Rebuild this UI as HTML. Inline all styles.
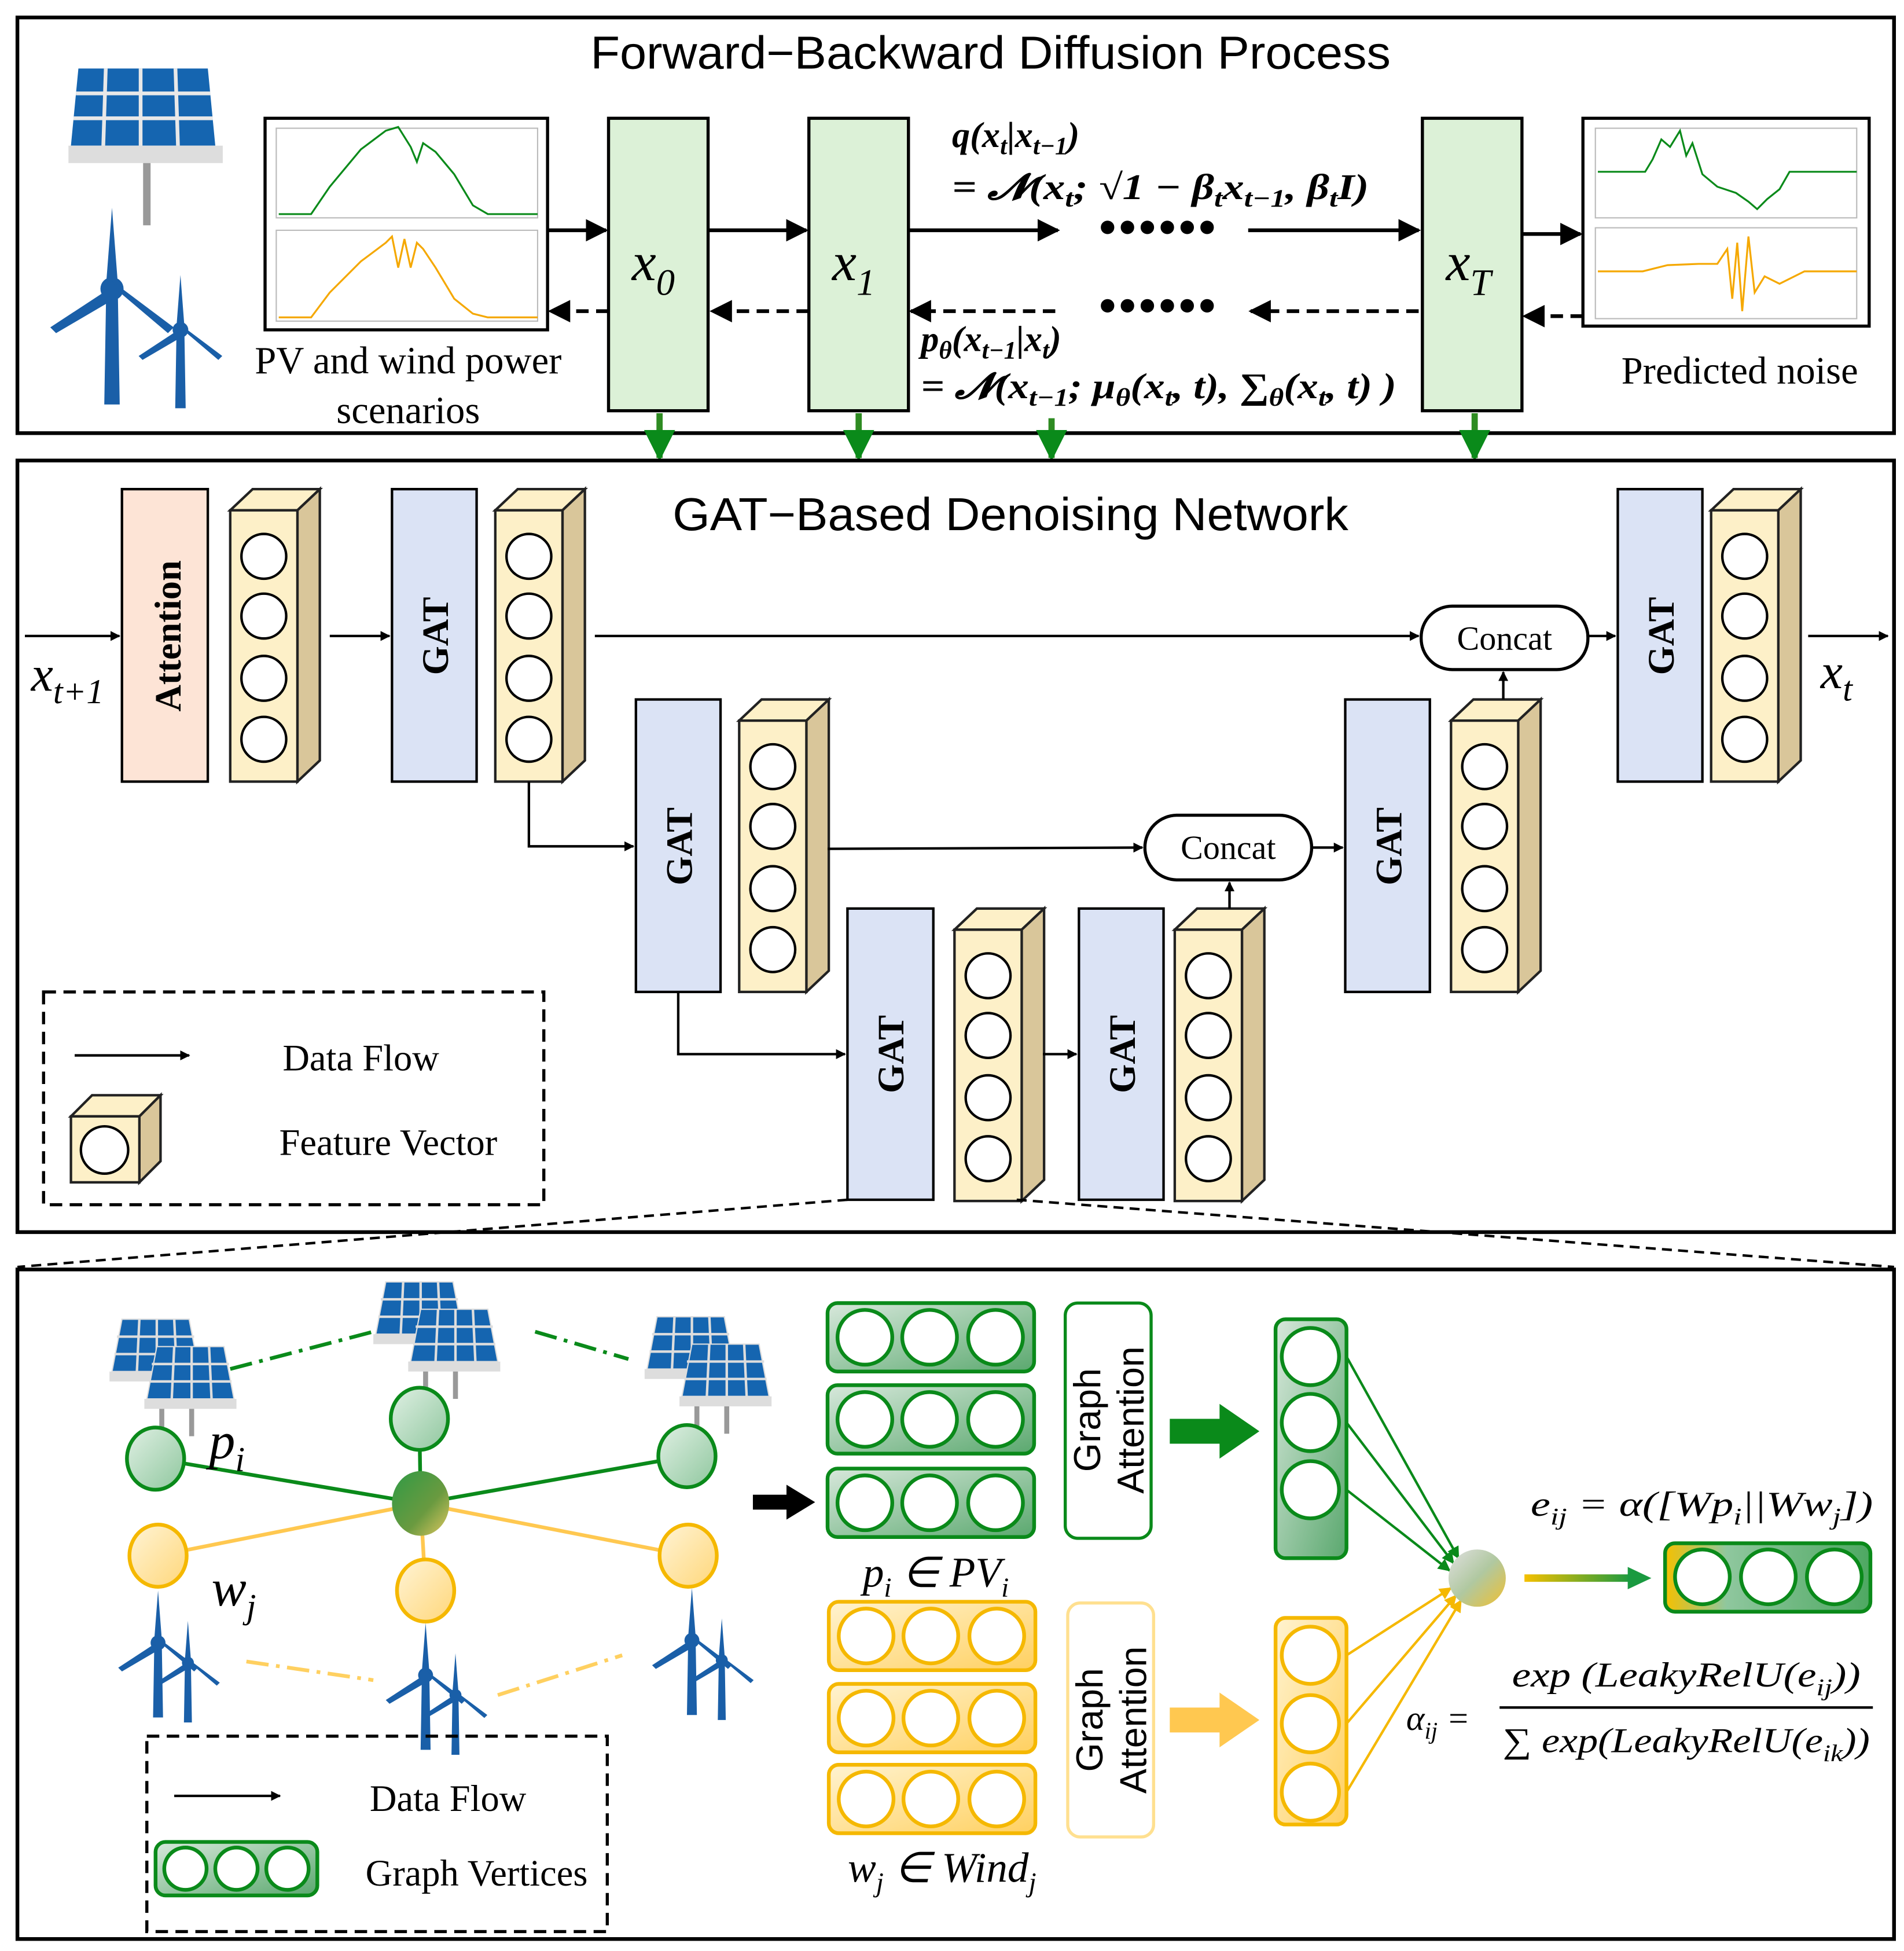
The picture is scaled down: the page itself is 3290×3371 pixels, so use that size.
<!DOCTYPE html>
<html><head><meta charset="utf-8"><style>html,body{margin:0;padding:0;background:#fff}svg{display:block}</style></head><body>
<svg width="3290" height="3371" viewBox="0 0 1530 1567.6" xmlns="http://www.w3.org/2000/svg" font-family="Liberation Serif, serif">
<defs>
<marker id="ah" viewBox="0 0 10 10" refX="9" refY="5" markerWidth="6" markerHeight="6" orient="auto"><path d="M0,0L10,5L0,10z" fill="#000"/></marker>
<marker id="ahs" viewBox="0 0 10 10" refX="9" refY="5" markerWidth="4" markerHeight="4" orient="auto"><path d="M0,0L10,5L0,10z" fill="#000"/></marker>
<marker id="ahg" viewBox="0 0 10 10" refX="9" refY="5" markerWidth="5" markerHeight="5" orient="auto"><path d="M0,0L10,5L0,10z" fill="#0a8a1a"/></marker>
<marker id="ahy" viewBox="0 0 10 10" refX="9" refY="5" markerWidth="5" markerHeight="5" orient="auto"><path d="M0,0L10,5L0,10z" fill="#f5b800"/></marker>
<linearGradient id="gg" x1="0" y1="0" x2="1" y2="1"><stop offset="0" stop-color="#e0f0e4"/><stop offset="1" stop-color="#8fc79e"/></linearGradient>
<linearGradient id="gy" x1="0" y1="0" x2="1" y2="1"><stop offset="0" stop-color="#fff4d6"/><stop offset="1" stop-color="#ffd77a"/></linearGradient>
<linearGradient id="gn" x1="0" y1="0" x2="1" y2="1"><stop offset="0" stop-color="#d8e8dc"/><stop offset="1" stop-color="#5aa86e"/></linearGradient>
<linearGradient id="gny" x1="0" y1="0" x2="1" y2="1"><stop offset="0" stop-color="#fff3d0"/><stop offset="1" stop-color="#ffd060"/></linearGradient>
<linearGradient id="gc" x1="0" y1="0" x2="1" y2="1"><stop offset="0" stop-color="#2f9a45"/><stop offset="0.6" stop-color="#6a9a40"/><stop offset="1" stop-color="#e0c860"/></linearGradient>
<linearGradient id="gc2" x1="0" y1="0" x2="1" y2="1"><stop offset="0" stop-color="#e0e0e0"/><stop offset="0.5" stop-color="#b0c8a0"/><stop offset="1" stop-color="#f0c030"/></linearGradient>
<linearGradient id="gar" x1="0" y1="0" x2="1" y2="0"><stop offset="0" stop-color="#f5c000"/><stop offset="1" stop-color="#1a9a40"/></linearGradient>
<linearGradient id="gout" x1="0" y1="0" x2="1" y2="0"><stop offset="0" stop-color="#f5c000"/><stop offset="0.3" stop-color="#8fc79e"/><stop offset="1" stop-color="#4ea862"/></linearGradient>
<g id="fv">
<polygon points="0,17 18,0 72,0 54,17" fill="#fdf0c8" stroke="#222" stroke-width="2"/>
<polygon points="54,17 72,0 72,218 54,235" fill="#d9c69a" stroke="#222" stroke-width="2"/>
<rect x="0" y="17" width="54" height="218" fill="#fdf0c8" stroke="#222" stroke-width="2"/>
<circle cx="27" cy="54" r="18" fill="#fff" stroke="#000" stroke-width="2"/>
<circle cx="27" cy="102" r="18" fill="#fff" stroke="#000" stroke-width="2"/>
<circle cx="27" cy="152" r="18" fill="#fff" stroke="#000" stroke-width="2"/>
<circle cx="27" cy="201" r="18" fill="#fff" stroke="#000" stroke-width="2"/>
</g>
<g id="pan">
<polygon points="8,0 62,0 70,42 0,42" fill="#1565b0" stroke="#ddd" stroke-width="1"/>
<path d="M4,14H66M2,28H68M22,0L20,42M36,0V42M50,0L52,42" stroke="#ddd" stroke-width="2"/>
<rect x="-2" y="42" width="74" height="8" fill="#ddd"/>
</g>
<g id="sol"><use href="#pan"/><use href="#pan" x="28" y="22"/><rect x="38" y="72" width="4" height="22" fill="#999"/><rect x="62" y="72" width="4" height="22" fill="#999"/></g>
<g id="tur" fill="#1a5fa8">
<polygon points="-3,0 3,0 4,60 -4,60"/><circle cx="0" cy="0" r="6"/>
<polygon points="-3,-3 3,-3 0,-42"/><polygon points="-3,1 -32,20 -29,23 0,6"/><polygon points="3,1 29,23 32,20 0,-4"/>
</g>
<g id="turs"><use href="#tur"/><use href="#tur" transform="translate(24,16) scale(0.8)"/></g>
<g id="hrow"><rect x="0" y="0" width="166" height="55" rx="8"/><circle cx="30" cy="27.5" r="22" fill="#fff"/><circle cx="82" cy="27.5" r="22" fill="#fff"/><circle cx="135" cy="27.5" r="22" fill="#fff"/></g>
</defs>

<!-- TOP PANEL -->
<rect x="14" y="14" width="1508" height="334" fill="#fff" stroke="#000" stroke-width="3"/>
<text x="796" y="55" font-family="Liberation Sans, sans-serif" font-size="37" text-anchor="middle" textLength="643" lengthAdjust="spacingAndGlyphs">Forward−Backward Diffusion Process</text>
<g transform="translate(55,55)">
<polygon points="8,0 112,0 118,62 2,62" fill="#1565b0"/>
<path d="M6,20H114M4,40H116M30,0L28,62M58,0V62M86,0L88,62" stroke="#e8e8e8" stroke-width="3"/>
<rect x="0" y="62" width="124" height="14" fill="#ddd"/><rect x="60" y="76" width="6" height="50" fill="#999"/>
</g>
<use href="#tur" transform="translate(90,232) scale(1.55,1.55)"/>
<use href="#tur" transform="translate(145,265) scale(1.05)"/>
<rect x="213" y="95" width="227" height="170" fill="#fff" stroke="#000" stroke-width="2.5"/>
<rect x="222" y="103" width="210" height="72" fill="#fff" stroke="#bbb"/>
<rect x="222" y="185" width="210" height="73" fill="#fff" stroke="#bbb"/>
<polyline points="224,172 250,172 265,150 290,120 310,105 320,102 330,118 335,130 340,115 350,122 365,140 380,165 392,172 432,172" fill="none" stroke="#0a8a1a" stroke-width="1.5"/>
<polyline points="224,255 250,255 265,235 290,210 310,195 315,190 320,215 325,192 330,215 335,195 340,200 350,215 365,240 380,252 392,255 432,255" fill="none" stroke="#f5a800" stroke-width="1.5"/>
<rect x="1272" y="95" width="230" height="167" fill="#fff" stroke="#000" stroke-width="2.5"/>
<rect x="1282" y="103" width="210" height="72" fill="#fff" stroke="#bbb"/>
<rect x="1282" y="183" width="210" height="73" fill="#fff" stroke="#bbb"/>
<polyline points="1284,138 1322,138 1328,128 1335,112 1342,118 1350,105 1355,125 1360,115 1368,140 1380,150 1395,155 1405,162 1412,168 1420,160 1430,152 1438,138 1492,138" fill="none" stroke="#0a8a1a" stroke-width="1.5"/>
<polyline points="1284,218 1320,218 1340,213 1365,212 1380,212 1388,200 1392,240 1396,195 1400,250 1405,190 1410,235 1418,222 1430,228 1450,218 1492,218" fill="none" stroke="#f5a800" stroke-width="1.5"/>
<g fill="#dcf1d7" stroke="#000" stroke-width="2.5">
<rect x="489" y="95" width="80" height="235"/><rect x="650" y="95" width="80" height="235"/><rect x="1143" y="95" width="80" height="235"/>
</g>
<g font-size="44" font-style="italic" text-anchor="middle">
<text x="525" y="225">x<tspan font-size="30" dy="12">0</tspan></text>
<text x="686" y="225">x<tspan font-size="30" dy="12">1</tspan></text>
<text x="1180" y="225">x<tspan font-size="30" dy="12">T</tspan></text>
</g>
<g stroke="#000" stroke-width="3" marker-end="url(#ah)">
<line x1="440" y1="185" x2="487" y2="185"/><line x1="569" y1="185" x2="648" y2="185"/><line x1="730" y1="185" x2="850" y2="185"/>
<line x1="1003" y1="185" x2="1140" y2="185"/><line x1="1223" y1="188" x2="1270" y2="188"/>
</g>
<g stroke="#000" stroke-width="3" stroke-dasharray="10,6" marker-end="url(#ah)">
<line x1="489" y1="250" x2="442" y2="250"/><line x1="650" y1="250" x2="572" y2="250"/><line x1="848" y1="250" x2="732" y2="250"/>
<line x1="1140" y1="250" x2="1005" y2="250"/><line x1="1272" y1="254" x2="1225" y2="254"/>
</g>
<text x="883" y="196" font-size="40" font-weight="bold" letter-spacing="2">••••••</text>
<text x="883" y="259" font-size="40" font-weight="bold" letter-spacing="2">••••••</text>
<g font-size="29" font-weight="bold" font-style="italic">
<text x="765" y="118">q(x<tspan font-size="20" dy="6">t</tspan><tspan dy="-6">|x</tspan><tspan font-size="20" dy="6">t−1</tspan><tspan dy="-6">)</tspan></text>
<text x="765" y="160" textLength="335" lengthAdjust="spacingAndGlyphs">= 𝓝(x<tspan font-size="20" dy="6">t</tspan><tspan dy="-6">; √1 − β</tspan><tspan font-size="20" dy="6">t</tspan><tspan dy="-6">x</tspan><tspan font-size="20" dy="6">t−1</tspan><tspan dy="-6">, β</tspan><tspan font-size="20" dy="6">t</tspan><tspan dy="-6">I)</tspan></text>
<text x="740" y="282">p<tspan font-size="20" dy="6">θ</tspan><tspan dy="-6">(x</tspan><tspan font-size="20" dy="6">t−1</tspan><tspan dy="-6">|x</tspan><tspan font-size="20" dy="6">t</tspan><tspan dy="-6">)</tspan></text>
<text x="740" y="320" textLength="382" lengthAdjust="spacingAndGlyphs">= 𝓝(x<tspan font-size="20" dy="6">t−1</tspan><tspan dy="-6">; μ</tspan><tspan font-size="20" dy="6">θ</tspan><tspan dy="-6">(x</tspan><tspan font-size="20" dy="6">t</tspan><tspan dy="-6">, t), ∑</tspan><tspan font-size="20" dy="6">θ</tspan><tspan dy="-6">(x</tspan><tspan font-size="20" dy="6">t</tspan><tspan dy="-6">, t) )</tspan></text>
</g>
<g font-size="31" text-anchor="middle"><text x="328" y="300">PV and wind power</text><text x="328" y="340">scenarios</text><text x="1398" y="308">Predicted noise</text></g>
<g stroke="#2e8b22" stroke-width="5" marker-end="url(#ahg)">
<line x1="530" y1="332" x2="530" y2="368"/><line x1="690" y1="332" x2="690" y2="368"/><line x1="845" y1="336" x2="845" y2="368"/><line x1="1185" y1="332" x2="1185" y2="368"/>
</g>

<!-- MIDDLE PANEL -->
<rect x="14" y="370" width="1508" height="620" fill="#fff" stroke="#000" stroke-width="3"/>
<text x="812" y="426" font-family="Liberation Sans, sans-serif" font-size="37" text-anchor="middle" textLength="543" lengthAdjust="spacingAndGlyphs">GAT−Based Denoising Network</text>
<rect x="98" y="393" width="69" height="235" fill="#fde4d6" stroke="#000" stroke-width="2"/>
<text transform="translate(145,511) rotate(-90)" font-size="30" font-weight="bold" text-anchor="middle">Attention</text>
<g fill="#dbe3f5" stroke="#000" stroke-width="2">
<rect x="315" y="393" width="68" height="235"/><rect x="1300" y="393" width="68" height="235"/>
<rect x="511" y="562" width="68" height="235"/><rect x="1081" y="562" width="68" height="235"/>
<rect x="681" y="730" width="69" height="234"/><rect x="867" y="730" width="68" height="234"/>
</g>
<g font-size="30" font-weight="bold" text-anchor="middle">
<text transform="translate(360,511) rotate(-90)">GAT</text><text transform="translate(1345,511) rotate(-90)">GAT</text>
<text transform="translate(556,680) rotate(-90)">GAT</text><text transform="translate(1126,680) rotate(-90)">GAT</text>
<text transform="translate(726,847) rotate(-90)">GAT</text><text transform="translate(912,847) rotate(-90)">GAT</text>
</g>
<use href="#fv" x="185" y="393"/><use href="#fv" x="398" y="393"/><use href="#fv" x="1375" y="393"/>
<use href="#fv" x="594" y="562"/><use href="#fv" x="1166" y="562"/>
<use href="#fv" x="767" y="730"/><use href="#fv" x="944" y="730"/>
<g fill="#fff" stroke="#000" stroke-width="2.5">
<rect x="1142" y="487" width="134" height="51" rx="25"/><rect x="920" y="655" width="134" height="52" rx="26"/>
</g>
<g font-size="27" text-anchor="middle"><text x="1209" y="522">Concat</text><text x="987" y="690">Concat</text></g>
<g stroke="#000" stroke-width="2" fill="none" marker-end="url(#ahs)">
<line x1="20" y1="511" x2="96" y2="511"/><line x1="265" y1="511" x2="313" y2="511"/>
<line x1="478" y1="511" x2="1140" y2="511"/><line x1="1276" y1="511" x2="1298" y2="511"/>
<line x1="1453" y1="511" x2="1517" y2="511"/><line x1="1208" y1="562" x2="1208" y2="540"/>
<polyline points="425,628 425,680 509,680"/>
<line x1="665" y1="682" x2="918" y2="681"/><line x1="1054" y1="681" x2="1079" y2="681"/>
<line x1="988" y1="730" x2="988" y2="709"/>
<polyline points="545,797 545,847 679,847"/><line x1="838" y1="847" x2="865" y2="847"/>
<line x1="60" y1="848" x2="152" y2="848"/>
</g>
<text x="25" y="555" font-size="40" font-style="italic">x<tspan font-size="28" dy="10">t+1</tspan></text>
<text x="1463" y="553" font-size="40" font-style="italic">x<tspan font-size="28" dy="10">t</tspan></text>
<rect x="35" y="797" width="402" height="171" fill="none" stroke="#000" stroke-width="2.5" stroke-dasharray="10,6"/>
<g transform="translate(57,880)">
<polygon points="0,17 17,0 72,0 55,17" fill="#fdf0c8" stroke="#222" stroke-width="2"/>
<polygon points="55,17 72,0 72,53 55,70" fill="#d9c69a" stroke="#222" stroke-width="2"/>
<rect x="0" y="17" width="55" height="53" fill="#fdf0c8" stroke="#222" stroke-width="2"/>
<circle cx="27" cy="44" r="19" fill="#fff" stroke="#000" stroke-width="2"/>
</g>
<g font-size="30" text-anchor="middle"><text x="290" y="860">Data Flow</text><text x="312" y="928">Feature Vector</text></g>
<g stroke="#000" stroke-width="2" stroke-dasharray="8,5">
<line x1="681" y1="964" x2="14" y2="1018"/><line x1="817" y1="964" x2="1522" y2="1018"/>
</g>

<!-- BOTTOM PANEL -->
<rect x="14" y="1020" width="1508" height="538" fill="#fff" stroke="#000" stroke-width="3"/>
<use href="#sol" x="90" y="1060"/><use href="#sol" x="302" y="1030"/><use href="#sol" x="520" y="1058"/>
<use href="#turs" transform="translate(127,1320)"/><use href="#turs" transform="translate(342,1346)"/><use href="#turs" transform="translate(556,1318)"/>
<g stroke="#0a8a1a" stroke-width="3" stroke-dasharray="18,6,3,6"><line x1="185" y1="1100" x2="300" y2="1070"/><line x1="430" y1="1070" x2="505" y2="1092"/></g>
<g stroke="#ffd060" stroke-width="3" stroke-dasharray="18,6,3,6"><line x1="198" y1="1335" x2="300" y2="1350"/><line x1="400" y1="1362" x2="500" y2="1330"/></g>
<g stroke="#0a8a1a" stroke-width="3"><line x1="125" y1="1172" x2="338" y2="1208"/><line x1="337" y1="1140" x2="338" y2="1208"/><line x1="552" y1="1170" x2="338" y2="1208"/></g>
<g stroke="#ffc850" stroke-width="3"><line x1="127" y1="1250" x2="338" y2="1208"/><line x1="342" y1="1278" x2="338" y2="1208"/><line x1="553" y1="1250" x2="338" y2="1208"/></g>
<g fill="url(#gg)" stroke="#0a8a1a" stroke-width="3"><ellipse cx="125" cy="1172" rx="23" ry="25"/><ellipse cx="337" cy="1140" rx="23" ry="25"/><ellipse cx="552" cy="1170" rx="23" ry="25"/></g>
<g fill="url(#gy)" stroke="#f5b800" stroke-width="3"><ellipse cx="127" cy="1250" rx="23" ry="25"/><ellipse cx="342" cy="1278" rx="23" ry="25"/><ellipse cx="553" cy="1250" rx="23" ry="25"/></g>
<ellipse cx="338" cy="1208" rx="23" ry="26" fill="url(#gc)"/>
<text x="168" y="1172" font-size="42" font-style="italic">p<tspan font-size="28" dy="10">i</tspan></text>
<text x="170" y="1290" font-size="42" font-style="italic">w<tspan font-size="28" dy="10">j</tspan></text>
<polygon points="605,1201 632,1201 632,1193 655,1207 632,1221 632,1213 605,1213" fill="#000"/>
<g fill="url(#gn)" stroke="#0a8a1a" stroke-width="3">
<use href="#hrow" x="665" y="1047"/><use href="#hrow" x="665" y="1113"/><use href="#hrow" x="665" y="1180"/>
</g>
<g fill="url(#gny)" stroke="#f5b800" stroke-width="3">
<use href="#hrow" x="666" y="1287"/><use href="#hrow" x="666" y="1353"/><use href="#hrow" x="666" y="1418"/>
</g>
<text x="752" y="1275" font-size="34" font-style="italic" text-anchor="middle">p<tspan font-size="22" dy="8">i</tspan><tspan dy="-8"> ∈ PV</tspan><tspan font-size="22" dy="8">i</tspan></text>
<text x="757" y="1512" font-size="34" font-style="italic" text-anchor="middle">w<tspan font-size="22" dy="8">j</tspan><tspan dy="-8"> ∈ Wind</tspan><tspan font-size="22" dy="8">j</tspan></text>
<rect x="856" y="1047" width="69" height="189" rx="10" fill="#fff" stroke="#0a8a1a" stroke-width="2.5"/>
<rect x="858" y="1288" width="69" height="188" rx="10" fill="#fff" stroke="#ffe090" stroke-width="2.5"/>
<g font-family="Liberation Sans, sans-serif" font-size="30" text-anchor="middle">
<text transform="translate(884,1141) rotate(-90)">Graph</text><text transform="translate(919,1141) rotate(-90)">Attention</text>
<text transform="translate(886,1382) rotate(-90)">Graph</text><text transform="translate(921,1382) rotate(-90)">Attention</text>
</g>
<polygon points="940,1140 980,1140 980,1128 1012,1150 980,1172 980,1160 940,1160" fill="#0a8a1a"/>
<polygon points="940,1372 980,1372 980,1360 1012,1382 980,1404 980,1392 940,1392" fill="#ffc850"/>
<rect x="1025" y="1060" width="57" height="192" rx="8" fill="url(#gn)" stroke="#0a8a1a" stroke-width="3"/>
<g fill="#fff" stroke="#0a8a1a" stroke-width="3"><circle cx="1053" cy="1090" r="23"/><circle cx="1053" cy="1143" r="23"/><circle cx="1053" cy="1197" r="23"/></g>
<rect x="1025" y="1300" width="57" height="166" rx="8" fill="url(#gny)" stroke="#f5b800" stroke-width="3"/>
<g fill="#fff" stroke="#f5b800" stroke-width="3"><circle cx="1053" cy="1330" r="23"/><circle cx="1053" cy="1385" r="23"/><circle cx="1053" cy="1440" r="23"/></g>
<g stroke="#0a8a1a" stroke-width="2" marker-end="url(#ahg)"><line x1="1082" y1="1090" x2="1172" y2="1252"/><line x1="1082" y1="1143" x2="1168" y2="1256"/><line x1="1082" y1="1197" x2="1165" y2="1262"/></g>
<g stroke="#f5b800" stroke-width="2" marker-end="url(#ahy)"><line x1="1082" y1="1330" x2="1166" y2="1276"/><line x1="1082" y1="1385" x2="1170" y2="1282"/><line x1="1082" y1="1440" x2="1174" y2="1286"/></g>
<circle cx="1187" cy="1268" r="23" fill="url(#gc2)"/>
<rect x="1225" y="1265" width="86" height="6" fill="url(#gar)"/>
<polygon points="1308,1259 1327,1268 1308,1277" fill="#1a9a40"/>
<rect x="1338" y="1240" width="165" height="55" rx="8" fill="url(#gout)" stroke="#0a8a1a" stroke-width="3"/>
<g fill="#fff" stroke="#0a8a1a" stroke-width="3"><circle cx="1368" cy="1267" r="22"/><circle cx="1421" cy="1267" r="22"/><circle cx="1474" cy="1267" r="22"/></g>
<g font-size="28" font-style="italic">
<text x="1230" y="1218" textLength="275" lengthAdjust="spacingAndGlyphs">e<tspan font-size="19" dy="7">ij</tspan><tspan dy="-7"> = α([Wp</tspan><tspan font-size="19" dy="7">i</tspan><tspan dy="-7">||Ww</tspan><tspan font-size="19" dy="7">j</tspan><tspan dy="-7">])</tspan></text>
<text x="1130" y="1390">α<tspan font-size="19" dy="7">ij</tspan><tspan dy="-7"> =</tspan></text>
<text x="1355" y="1355" text-anchor="middle" textLength="280" lengthAdjust="spacingAndGlyphs">exp (LeakyRelU(e<tspan font-size="19" dy="7">ij</tspan><tspan dy="-7">))</tspan></text>
<text x="1355" y="1408" text-anchor="middle" textLength="295" lengthAdjust="spacingAndGlyphs">∑ exp(LeakyRelU(e<tspan font-size="19" dy="7">ik</tspan><tspan dy="-7">))</tspan></text>
</g>
<line x1="1205" y1="1372" x2="1505" y2="1372" stroke="#000" stroke-width="2"/>
<rect x="118" y="1395" width="370" height="157" fill="none" stroke="#000" stroke-width="2.5" stroke-dasharray="10,6"/>
<line x1="140" y1="1443" x2="225" y2="1443" stroke="#000" stroke-width="2" marker-end="url(#ahs)"/>
<g transform="translate(125,1480)"><rect x="0" y="0" width="130" height="43" rx="8" fill="url(#gn)" stroke="#0a8a1a" stroke-width="3"/>
<g fill="#fff" stroke="#0a8a1a" stroke-width="3"><circle cx="24" cy="21.5" r="17"/><circle cx="65" cy="21.5" r="17"/><circle cx="106" cy="21.5" r="17"/></g></g>
<g font-size="30" text-anchor="middle"><text x="360" y="1455">Data Flow</text><text x="383" y="1515">Graph Vertices</text></g>
</svg>
</body></html>
